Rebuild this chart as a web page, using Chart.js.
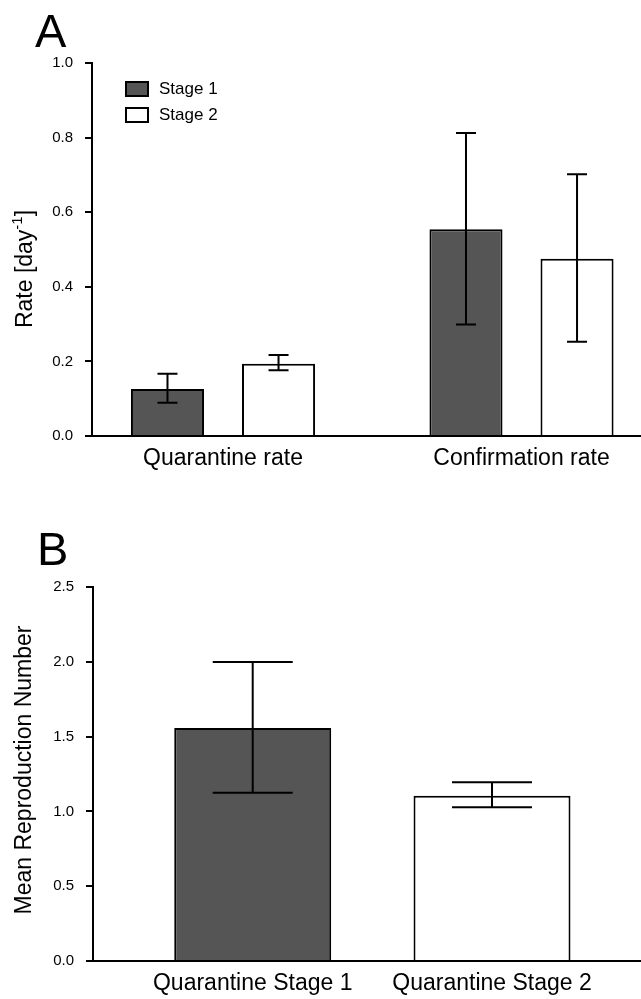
<!DOCTYPE html>
<html>
<head>
<meta charset="utf-8">
<script src="https://cdn.jsdelivr.net/npm/chart.js@4"></script>
<style>
  body { margin: 0; background: #fff; }
  #wrapA { position: absolute; left: 0; top: 0; }
  #wrapB { position: absolute; left: 0; top: 480px; }
</style>
</head>
<body>
<div id="wrapA"><canvas id="chartA" width="641" height="480"></canvas></div>
<div id="wrapB"><canvas id="chartB" width="641" height="519"></canvas></div>
<script>
// panel A: rates per stage
const categoriesA = ["Quarantine rate", "Confirmation rate"];
const stage1Rates = [0.126, 0.554];
const stage1Low = [0.089, 0.299];
const stage1High = [0.167, 0.812];
const stage2Rates = [0.194, 0.475];
const stage2Low = [0.176, 0.253];
const stage2High = [0.217, 0.702];

// panel B: mean reproduction number
const categoriesB = ["Quarantine Stage 1", "Quarantine Stage 2"];
const meanR = [1.557, 1.105];
const meanRLow = [1.125, 1.027];
const meanRHigh = [1.998, 1.195];

Chart.defaults.font.family = "'Liberation Sans', Arial, sans-serif";
Chart.defaults.color = "#000";

const errorBars = {
  id: "errorBars",
  afterDatasetsDraw(chart, args, opts) {
    const ctx = chart.ctx;
    const yScale = chart.scales.y;
    chart.data.datasets.forEach((ds, i) => {
      if (!ds.errLow) return;
      const meta = chart.getDatasetMeta(i);
      meta.data.forEach((bar, j) => {
        const x = bar.x;
        const lo = yScale.getPixelForValue(ds.errLow[j]);
        const hi = yScale.getPixelForValue(ds.errHigh[j]);
        const half = opts.capWidth / 2;
        ctx.save();
        ctx.strokeStyle = "#000";
        ctx.lineWidth = 2;
        ctx.beginPath();
        ctx.moveTo(x, lo); ctx.lineTo(x, hi);
        ctx.moveTo(x - half, lo); ctx.lineTo(x + half, lo);
        ctx.moveTo(x - half, hi); ctx.lineTo(x + half, hi);
        ctx.stroke();
        ctx.restore();
      });
    });
  }
};

const boxLegend = {
  id: "boxLegend",
  afterDraw(chart, args, opts) {
    if (!opts.show) return;
    const ctx = chart.ctx;
    chart.data.datasets.forEach((ds, i) => {
      const top = opts.y + i * opts.rowGap;
      ctx.save();
      ctx.fillStyle = ds.backgroundColor;
      ctx.fillRect(opts.x, top, 22, 14);
      ctx.strokeStyle = "#000";
      ctx.lineWidth = 2;
      ctx.strokeRect(opts.x, top, 22, 14);
      ctx.fillStyle = "#000";
      ctx.font = "17px 'Liberation Sans', Arial, sans-serif";
      ctx.textBaseline = "middle";
      ctx.fillText(ds.label, opts.x + 33, top + 7);
      ctx.restore();
    });
  }
};

const sideText = {
  id: "sideText",
  afterDraw(chart, args, opts) {
    const ctx = chart.ctx;
    ctx.save();
    ctx.fillStyle = "#000";
    ctx.font = "47px 'Liberation Sans', Arial, sans-serif";
    ctx.textBaseline = "alphabetic";
    ctx.fillText(opts.letter, opts.letterX, opts.letterY);
    // rotated axis title, optional superscript
    const big = "23px 'Liberation Sans', Arial, sans-serif";
    const small = "15px 'Liberation Sans', Arial, sans-serif";
    ctx.translate(opts.titleX, opts.titleY);
    ctx.rotate(-Math.PI / 2);
    ctx.textBaseline = "middle";
    ctx.font = big;
    const w1 = ctx.measureText(opts.title).width;
    let w2 = 0, w3 = 0;
    if (opts.sup) {
      ctx.font = small;
      w2 = ctx.measureText(opts.sup).width;
      ctx.font = big;
      w3 = ctx.measureText(opts.after).width;
    }
    let x = -(w1 + w2 + w3) / 2;
    ctx.fillText(opts.title, x, 0);
    if (opts.sup) {
      x += w1;
      ctx.font = small;
      ctx.fillText(opts.sup, x, -8);
      x += w2;
      ctx.font = big;
      ctx.fillText(opts.after, x, 0);
    }
    ctx.restore();
  }
};

function yAxis(max, step, width) {
  return {
    min: 0, max: max,
    ticks: { stepSize: step, callback: v => v.toFixed(1), font: { size: 15 }, color: "#000", padding: 12 },
    grid: { drawOnChartArea: false, drawTicks: true, tickLength: 7, color: "#000", lineWidth: 2 },
    border: { color: "#000", width: 2 },
    afterFit: s => { s.width = width; }
  };
}

function xAxis(labels, min, max, height) {
  return {
    type: "linear", min: min, max: max, offset: false,
    grid: { drawOnChartArea: false, drawTicks: false, offset: false },
    border: { color: "#000", width: 2 },
    afterBuildTicks: s => { s.ticks = labels.map((l, i) => ({ value: i })); },
    ticks: { callback: v => labels[v], font: { size: 23 }, color: "#000", padding: 9, maxRotation: 0, autoSkip: false },
    afterFit: s => { s.height = height; }
  };
}

new Chart(document.getElementById("chartA"), {
  type: "bar",
  data: {
    datasets: [
      {
        label: "Stage 1",
        data: stage1Rates.map((v, i) => ({ x: i, y: v })),
        errLow: stage1Low, errHigh: stage1High,
        backgroundColor: "#555555", borderColor: "#000", borderWidth: 2,
        categoryPercentage: 0.744, barPercentage: 0.658
      },
      {
        label: "Stage 2",
        data: stage2Rates.map((v, i) => ({ x: i, y: v })),
        errLow: stage2Low, errHigh: stage2High,
        backgroundColor: "#ffffff", borderColor: "#000", borderWidth: 2,
        categoryPercentage: 0.744, barPercentage: 0.658
      }
    ]
  },
  options: {
    responsive: false,
    animation: false,
    layout: { padding: { top: 63, left: 0, right: 0, bottom: 0 } },
    plugins: {
      legend: { display: false },
      tooltip: { enabled: false },
      errorBars: { capWidth: 20 },
      boxLegend: { show: true, x: 126, y: 82, rowGap: 26 },
      sideText: { letter: "A", letterX: 35, letterY: 47, titleX: 26, titleY: 269, title: "Rate [day", sup: "-1", after: "]" }
    },
    scales: {
      x: xAxis(categoriesA, -0.4389, 1.4003, 44),
      y: yAxis(1.0, 0.2, 92)
    }
  },
  plugins: [errorBars, boxLegend, sideText]
});

new Chart(document.getElementById("chartB"), {
  type: "bar",
  data: {
    datasets: [
      {
        label: "Mean Reproduction Number",
        data: meanR.map((v, i) => ({ x: i, y: v })),
        errLow: meanRLow, errHigh: meanRHigh,
        backgroundColor: ["#555555", "#ffffff"], borderColor: "#000", borderWidth: 2,
        categoryPercentage: 1, barPercentage: 0.656
      }
    ]
  },
  options: {
    responsive: false,
    animation: false,
    layout: { padding: { top: 107, left: 0, right: 0, bottom: 0 } },
    plugins: {
      legend: { display: false },
      tooltip: { enabled: false },
      errorBars: { capWidth: 80 },
      boxLegend: { show: false },
      sideText: { letter: "B", letterX: 37, letterY: 85, titleX: 25, titleY: 290, title: "Mean Reproduction Number" }
    },
    scales: {
      x: xAxis(categoriesB, -0.6674, 1.6226, 38),
      y: yAxis(2.5, 0.5, 93)
    }
  },
  plugins: [errorBars, boxLegend, sideText]
});
</script>
</body>
</html>
